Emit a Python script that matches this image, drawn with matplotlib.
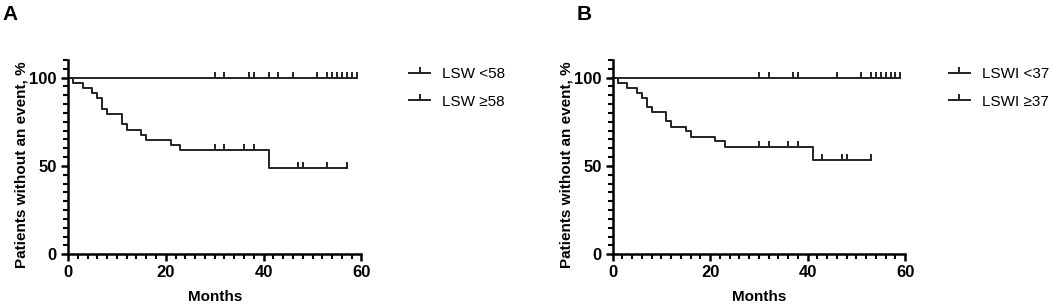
import numpy as np
import matplotlib
matplotlib.use("Agg")
import matplotlib.pyplot as plt
from matplotlib.path import Path
from matplotlib.lines import Line2D

plt.rcParams['font.family'] = ['Liberation Sans', 'DejaVu Sans']

# Panel A: LSW groups (step times in months, survival %)
a_low_label = "LSW <58"
a_low_end = 59
a_low_censor = [30, 32, 37, 38, 41, 43, 46, 51, 53, 54, 55, 56, 57, 58, 59]

a_high_label = "LSW \u226558"
a_high_times = [1, 3, 5, 6, 7, 8, 11, 12, 15, 16, 21, 23, 41]
a_high_surv = [97.1, 94.1, 91.2, 88.2, 82.4, 79.4, 73.5, 70.6, 67.6, 64.7, 61.8, 58.8, 49.0]
a_high_end = 57
a_high_censor = [30, 32, 36, 38, 47, 48, 53, 57]

# Panel B: LSWI groups
b_low_label = "LSWI <37"
b_low_end = 59
b_low_censor = [30, 32, 37, 38, 46, 51, 53, 54, 55, 56, 57, 58, 59]

b_high_label = "LSWI \u226537"
b_high_times = [1, 3, 5, 6, 7, 8, 11, 12, 15, 16, 21, 23, 41]
b_high_surv = [97.1, 94.3, 91.4, 88.6, 83.5, 80.5, 75.3, 72.3, 69.6, 66.6, 63.9, 60.9, 53.5]
b_high_end = 53
b_high_censor = [30, 32, 36, 38, 43, 47, 48, 53]

col = '#222222'
tick_mark = Path([(0, 0), (0, 1)], [Path.MOVETO, Path.LINETO])


def step_curve(times, surv, end):
    x = [0] + list(times) + [end]
    y = [100] + list(surv) + [surv[-1]]
    return x, y


def surv_at(t, times, surv):
    s = 100
    for ti, si in zip(times, surv):
        if t >= ti:
            s = si
    return s


def draw_panel(ax, letter, letter_x, low, high, leg_xy):
    low_label, low_end, low_censor = low
    high_label, high_times, high_surv, high_end, high_censor = high

    ax.plot([0, low_end], [100, 100], color=col, lw=1.4)
    ax.plot(low_censor, [100] * len(low_censor), ls='none', marker=tick_mark,
            ms=8, mew=1.4, color=col)

    x, y = step_curve(high_times, high_surv, high_end)
    ax.step(x, y, where='post', color=col, lw=1.4)
    cy = [surv_at(t, high_times, high_surv) for t in high_censor]
    ax.plot(high_censor, cy, ls='none', marker=tick_mark, ms=8, mew=1.4, color=col)

    ax.set_xlim(0, 60)
    ax.set_ylim(0, 110)
    ax.set_xticks([0, 20, 40, 60])
    ax.set_xticks(np.arange(0, 61, 2), minor=True)
    ax.set_yticks([0, 50, 100])
    ax.set_yticks(np.arange(0, 111, 5), minor=True)
    for s in ['top', 'right']:
        ax.spines[s].set_visible(False)
    for s in ['left', 'bottom']:
        ax.spines[s].set_linewidth(1.8)
        ax.spines[s].set_color('black')
    ax.tick_params(which='major', length=5, width=1.8, labelsize=12, pad=3)
    ax.tick_params(which='minor', length=3.5, width=1.5)
    for lab in ax.get_xticklabels() + ax.get_yticklabels():
        lab.set_fontweight('bold')
    ax.set_xlabel('Months', fontsize=11, fontweight='bold', labelpad=7)
    ax.set_ylabel('Patients without an event, %', fontsize=11, fontweight='bold')
    ax.yaxis.set_label_coords(-0.135, 0.46)

    handles = [Line2D([0], [0], color=col, lw=1.4, marker=tick_mark, ms=8, mew=1.4),
               Line2D([0], [0], color=col, lw=1.4, marker=tick_mark, ms=8, mew=1.4)]
    fig = ax.figure
    ax.legend(handles, [low_label, high_label], loc='upper left',
              bbox_to_anchor=leg_xy, bbox_transform=fig.transFigure,
              frameon=False, fontsize=11, handlelength=1.35, handletextpad=0.8,
              labelspacing=0.9, numpoints=1)
    fig.text(letter_x, 0.985, letter, fontsize=15,
             fontweight='bold', va='top', ha='left')


fig = plt.figure(figsize=(10.52, 3.06), dpi=100)
ax1 = fig.add_axes([0.0646, 0.169, 0.279, 0.635])
ax2 = fig.add_axes([0.5824, 0.169, 0.278, 0.635])

draw_panel(ax1, 'A', 0.002, (a_low_label, a_low_end, a_low_censor),
           (a_high_label, a_high_times, a_high_surv, a_high_end, a_high_censor),
           (0.376, 0.826))
draw_panel(ax2, 'B', 0.548, (b_low_label, b_low_end, b_low_censor),
           (b_high_label, b_high_times, b_high_surv, b_high_end, b_high_censor),
           (0.889, 0.826))

fig.savefig('out.png', dpi=100)
